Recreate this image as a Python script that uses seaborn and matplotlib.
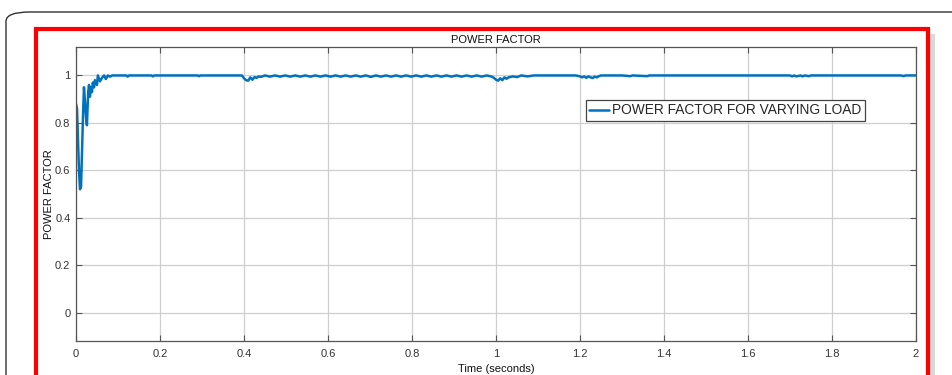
import matplotlib
matplotlib.use("Agg")
import matplotlib.pyplot as plt
from matplotlib.patches import Rectangle, FancyBboxPatch
import seaborn as sns
import pandas as pd

# Power factor trace (time in seconds, power factor per unit)
time_s = [
    0.000, 0.0024, 0.0048, 0.0071, 0.0095, 0.012, 0.014, 0.017, 0.019, 0.021,
    0.024, 0.026, 0.029, 0.031, 0.033, 0.036, 0.038, 0.040, 0.043, 0.045,
    0.050, 0.052, 0.057, 0.062, 0.067, 0.071, 0.076, 0.081, 0.086, 0.095,
    0.120, 0.123, 0.126, 0.180, 0.183, 0.186, 0.290, 0.293, 0.296, 0.395,
    0.400, 0.405, 0.410, 0.415, 0.420, 0.425, 0.430, 0.435, 0.440, 0.450,
    0.462, 0.474, 0.486, 0.498, 0.510, 0.522, 0.534, 0.546, 0.558, 0.570,
    0.582, 0.594, 0.606, 0.618, 0.630, 0.642, 0.654, 0.666, 0.678, 0.690,
    0.702, 0.714, 0.726, 0.738, 0.750, 0.762, 0.774, 0.786, 0.798, 0.810,
    0.822, 0.834, 0.846, 0.858, 0.870, 0.882, 0.894, 0.906, 0.918, 0.930,
    0.942, 0.954, 0.966, 0.978, 0.990, 0.995, 1.000, 1.005, 1.010, 1.015,
    1.020, 1.025, 1.030, 1.040, 1.050, 1.060, 1.075, 1.090, 1.100, 1.130,
    1.160, 1.190, 1.200, 1.205, 1.210, 1.215, 1.220, 1.225, 1.230, 1.235,
    1.240, 1.245, 1.250, 1.300, 1.320, 1.325, 1.360, 1.365, 1.400, 1.700,
    1.705, 1.710, 1.715, 1.725, 1.730, 1.735, 1.745, 1.750, 1.760, 1.965,
    1.970, 1.975, 2.000,
]
power_factor = [
    0.880, 0.860, 0.720, 0.600, 0.520, 0.530, 0.660, 0.850, 0.950, 0.900,
    0.820, 0.790, 0.930, 0.960, 0.910, 0.950, 0.930, 0.970, 0.950, 0.980,
    0.960, 1.000, 0.975, 0.990, 1.000, 0.985, 1.000, 0.995, 1.000, 1.000,
    1.000, 0.995, 1.000, 1.000, 0.996, 1.000, 1.000, 0.997, 1.000, 1.000,
    0.988, 0.980, 0.978, 0.992, 0.982, 0.993, 0.990, 0.996, 0.994, 1.000,
    0.995, 1.000, 0.995, 1.000, 0.995, 1.000, 0.995, 1.000, 0.995, 1.000,
    0.995, 1.000, 0.995, 1.000, 0.995, 1.000, 0.995, 1.000, 0.995, 1.000,
    0.994, 1.000, 0.995, 1.000, 0.995, 1.000, 0.995, 1.000, 0.995, 1.000,
    0.995, 1.000, 0.995, 1.000, 0.995, 1.000, 0.995, 1.000, 0.995, 1.000,
    0.995, 1.000, 0.995, 1.000, 0.995, 0.990, 0.982, 0.978, 0.988, 0.980,
    0.992, 0.986, 0.992, 0.996, 0.993, 1.000, 0.996, 1.000, 1.000, 1.000,
    1.000, 1.000, 0.996, 0.992, 0.996, 0.990, 0.996, 0.992, 0.989, 0.995,
    0.992, 0.997, 1.000, 1.000, 0.997, 1.000, 0.997, 1.000, 1.000, 1.000,
    0.996, 1.000, 0.996, 1.000, 0.996, 1.000, 0.997, 1.000, 1.000, 1.000,
    0.997, 1.000, 1.000,
]

x_ticks = [0, 0.2, 0.4, 0.6, 0.8, 1.0, 1.2, 1.4, 1.6, 1.8, 2.0]
x_tick_labels = ["0", "0.2", "0.4", "0.6", "0.8", "1", "1.2", "1.4", "1.6", "1.8", "2"]
y_ticks = [0, 0.2, 0.4, 0.6, 0.8, 1.0]
y_tick_labels = ["0", "0.2", "0.4", "0.6", "0.8", "1"]
series_label = "POWER FACTOR FOR VARYING LOAD"

df = pd.DataFrame({"Time (seconds)": time_s, "POWER FACTOR": power_factor})

sns.set_theme(style="whitegrid")
plt.rcParams["font.family"] = ["Liberation Sans", "DejaVu Sans"]

fig = plt.figure(figsize=(9.53, 3.75), dpi=100)
fig.patch.set_facecolor("white")

# Rounded outer frame
frame = FancyBboxPatch((6 / 953, -0.2), 1.2, 1 - 12 / 375 + 0.2,
                       boxstyle="round,pad=0,rounding_size=0.025",
                       transform=fig.transFigure, fill=False,
                       edgecolor="#333333", linewidth=1.0, zorder=0)
fig.patches.append(frame)

# Drop shadow and red highlight box
shadow = Rectangle((929 / 953, -0.1), 6 / 953, 1 - 34 / 375 + 0.1,
                   transform=fig.transFigure, facecolor="#d9d9d9",
                   edgecolor="none", zorder=0)
fig.patches.append(shadow)
red_box = Rectangle((36 / 953, -0.1), (928 - 36) / 953, 1 - 29 / 375 + 0.1,
                    transform=fig.transFigure, fill=False,
                    edgecolor="#ff0000", linewidth=3.0, zorder=1)
fig.patches.append(red_box)

ax = fig.add_axes([76 / 953, 1 - 341 / 375, (916 - 76) / 953, (341 - 47) / 375])
ax.set_facecolor("white")

sns.lineplot(data=df, x="Time (seconds)", y="POWER FACTOR", ax=ax,
             color="#0072BD", linewidth=1.8, label=series_label,
             estimator=None, sort=False)

ax.set_xlim(0, 2)
ax.set_ylim(-0.12, 1.12)
ax.set_xticks(x_ticks)
ax.set_xticklabels(x_tick_labels)
ax.set_yticks(y_ticks)
ax.set_yticklabels(y_tick_labels)

ax.grid(True, color="#cfcfcf", linewidth=0.9)
for side in ["top", "bottom", "left", "right"]:
    ax.spines[side].set_visible(True)
    ax.spines[side].set_color("#555555")
    ax.spines[side].set_linewidth(0.9)

ax.tick_params(axis="both", which="major", direction="in", length=4,
               width=0.8, color="#555555", labelcolor="#333333",
               labelsize=8, top=True, right=True, bottom=True, left=True)
ax.tick_params(axis="y", pad=4)
ax.tick_params(axis="x", pad=6)

ax.set_title("POWER FACTOR", fontsize=8, color="#111111", pad=3)
ax.set_xlabel("Time (seconds)", fontsize=8, color="#111111", labelpad=3)
ax.set_ylabel("POWER FACTOR", fontsize=8, color="#111111")
ax.yaxis.set_label_coords((54 - 76) / 840, 0.5)

leg = ax.legend(loc="upper left", bbox_to_anchor=(0.607, 0.82),
                fontsize=9.9, frameon=True, fancybox=False,
                handlelength=1.4, handletextpad=0.25, borderpad=0.25,
                borderaxespad=0)
leg.get_frame().set_edgecolor("#444444")
leg.get_frame().set_linewidth(0.9)
leg.get_frame().set_alpha(1)

fig.savefig("out.png", dpi=100, facecolor="white")
